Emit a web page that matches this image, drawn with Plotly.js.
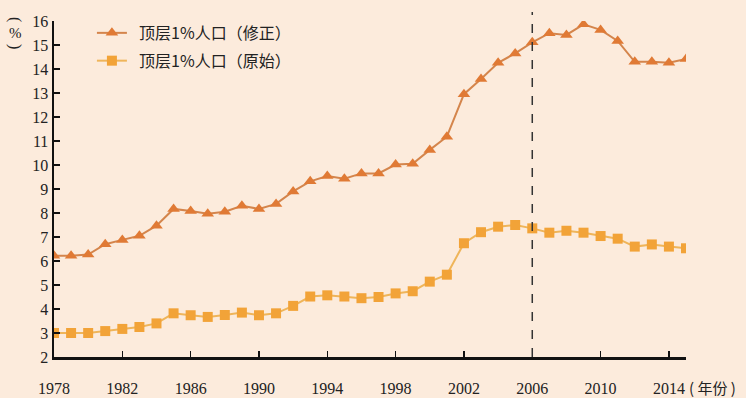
<!DOCTYPE html>
<html>
<head>
<meta charset="utf-8">
<script src="https://cdn.plot.ly/plotly-3.0.1.min.js"></script>
<style>html,body{margin:0;padding:0;background:#fcebdc;}#chart{width:746px;height:398px;}</style>
</head>
<body>
<div id="chart"></div>
<script>
const years = [1978,1979,1980,1981,1982,1983,1984,1985,1986,1987,1988,1989,1990,1991,1992,1993,1994,1995,1996,1997,1998,1999,2000,2001,2002,2003,2004,2005,2006,2007,2008,2009,2010,2011,2012,2013,2014,2015];
const revised = [6.22,6.22,6.27,6.7,6.88,7.05,7.47,8.17,8.08,7.97,8.05,8.3,8.17,8.38,8.9,9.32,9.54,9.43,9.65,9.65,10.02,10.05,10.63,11.18,12.95,13.58,14.26,14.65,15.11,15.49,15.42,15.86,15.63,15.17,14.3,14.3,14.26,14.42];
const original = [3.0,3.0,3.0,3.08,3.17,3.25,3.4,3.82,3.74,3.67,3.75,3.85,3.74,3.82,4.13,4.52,4.57,4.52,4.45,4.5,4.65,4.74,5.14,5.43,6.74,7.2,7.43,7.5,7.36,7.18,7.26,7.18,7.04,6.93,6.6,6.69,6.6,6.53];
const nameRevised = "顶层1%人口（修正）";
const nameOriginal = "顶层1%人口（原始）";
const xTicks = [1978,1982,1986,1990,1994,1998,2002,2006,2010,2014];
const yTicks = [2,3,4,5,6,7,8,9,10,11,12,13,14,15,16];
const markYear = 2006;

const pad = "\u00a0\u00a0";
const traces = [
  {x: years, y: revised, name: pad + nameRevised, type: "scatter", mode: "lines+markers", legendgroup: "a",
   line: {color: "#d4854c", width: 2}, marker: {symbol: "triangle-up", size: 11, color: "#e07a35"}},
  {x: years, y: original, name: pad + nameOriginal, type: "scatter", mode: "lines+markers", legendgroup: "b",
   line: {color: "#efb55a", width: 2}, marker: {symbol: "square", size: 10, color: "#f2a338"}}
];

const axisFont = {family: "Liberation Serif, serif", size: 16, color: "#222"};
const pyToPaper = function (py) { return (357 - py) / 336; };
const layout = {
  width: 746, height: 398,
  paper_bgcolor: "#fcebdc", plot_bgcolor: "#fcebdc",
  margin: {l: 54, r: 60, t: 21, b: 41},
  showlegend: true,
  legend: {x: 0.06, y: 1.015, xanchor: "left", yanchor: "top", bgcolor: "rgba(0,0,0,0)",
           font: {family: "Noto Sans CJK SC", size: 16, color: "#222"}, tracegroupgap: 4},
  xaxis: {range: [1978, 2015], tickvals: xTicks, ticktext: xTicks.map(String), ticks: "inside", ticklen: 6, tickwidth: 1.5,
          tickcolor: "#111", showline: true, linecolor: "#111", linewidth: 2.5, showgrid: false, zeroline: false,
          tickfont: axisFont, ticklabelstandoff: 15},
  yaxis: {range: [2, 16], tickvals: yTicks, ticks: "inside", ticklen: 6, tickwidth: 1.5, tickcolor: "#111",
          showline: true, linecolor: "#111", linewidth: 2.5, showgrid: false, zeroline: false, tickfont: axisFont},
  shapes: [{type: "line", xref: "x", yref: "paper", x0: markYear, x1: markYear, y0: 0, y1: 1.027,
            line: {color: "#333", width: 1.5, dash: "dash"}}],
  annotations: [
    {xref: "paper", yref: "paper", x: 1.0, xshift: 1, y: pyToPaper(388), xanchor: "left", yanchor: "middle", showarrow: false,
     text: "( 年份 )", font: {family: "Noto Sans CJK SC", size: 15, color: "#222"}},
    {xref: "paper", yref: "paper", x: 0, xshift: -39, y: pyToPaper(19), xanchor: "center", yanchor: "middle", showarrow: false,
     textangle: 90, text: "(", font: {family: "Liberation Serif, serif", size: 16, color: "#222"}},
    {xref: "paper", yref: "paper", x: 0, xshift: -39, y: pyToPaper(33), xanchor: "center", yanchor: "middle", showarrow: false,
     text: "%", font: {family: "Liberation Serif, serif", size: 15, color: "#222"}},
    {xref: "paper", yref: "paper", x: 0, xshift: -39, y: pyToPaper(46), xanchor: "center", yanchor: "middle", showarrow: false,
     textangle: 90, text: ")", font: {family: "Liberation Serif, serif", size: 16, color: "#222"}}
  ]
};
Plotly.newPlot("chart", traces, layout, {displayModeBar: false, staticPlot: true});
</script>
</body>
</html>
